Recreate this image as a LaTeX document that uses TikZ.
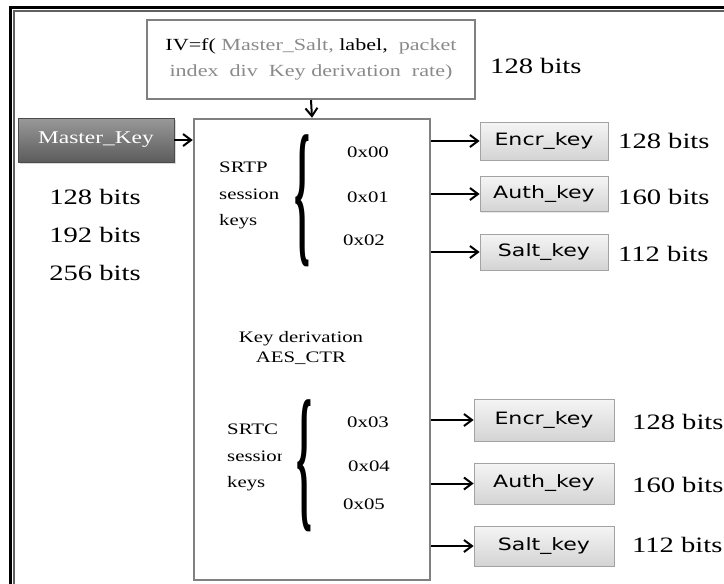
\documentclass[tikz,border=0pt]{standalone}
\usepackage{fontspec}
\usepackage{graphicx}
\setmainfont{Liberation Serif}[FakeStretch=1.3]
\newfontfamily\keyfont{DejaVu Sans}[FakeStretch=1.3]
\usetikzlibrary{arrows.meta,shadows}
\definecolor{txtgray}{HTML}{8A8A8A}
\definecolor{boxgray}{HTML}{808080}
\definecolor{keyedge}{HTML}{A3A3A3}
\tikzset{
  plain/.style={inner sep=0pt},
  arr/.style={line width=2pt,-{Straight Barb[length=8pt,width=12pt,line width=2pt]}},
  keybox/.style={draw=keyedge, line width=0.8pt, top color=white!96!black,
    bottom color=white!83!black, inner sep=0pt,
    font=\keyfont\fontsize{17}{17}\selectfont,
    drop shadow={opacity=0.18, shadow xshift=1.2pt, shadow yshift=-1.2pt}},
  bits/.style={plain, anchor=west, font=\fontsize{22}{22}\selectfont},
  hex/.style={plain, anchor=west, font=\fontsize{16}{16}\selectfont},
  curly/.style={plain, font=\bfseries},
}
\begin{document}
\begin{tikzpicture}[x=1pt,y=-1pt]
\useasboundingbox (0,0) rectangle (724,584);

% outer double frame
\draw[line width=3pt] (10.5,584) -- (10.5,7.5) -- (724,7.5);
\draw[line width=2pt, color=black!62] (14,584) -- (14,11) -- (724,11);

% initialisation vector
\node[draw=boxgray, line width=2pt, minimum width=328pt, minimum height=79pt,
      align=center, font=\fontsize{17}{26}\selectfont, text=txtgray]
  (iv) at (311,59.5)
  {\textcolor{black}{IV=f(} Master\_Salt, \textcolor{black}{label,}\ \ packet\\
   index\ \ div\ \ Key derivation\ \ rate)};
\node[bits] (ivbits) at (490,66) {128 bits};

% key derivation block
\node[draw=boxgray, line width=2.5pt, minimum width=236pt, minimum height=461pt,
      inner sep=0pt] (main) at (312,349.5) {};
\node[plain, align=center, font=\fontsize{16}{19.5}\selectfont]
  (kd) at (301,348) {Key derivation\\AES\_CTR};

% master key
\node[draw=black!70, line width=0.6pt, top color=black!40, bottom color=black!64,
      minimum width=156pt, minimum height=44pt, inner sep=0pt, text=white,
      font=\fontsize{18}{18}\selectfont,
      drop shadow={opacity=0.3, shadow xshift=1.5pt, shadow yshift=-2pt}]
  (mk) at (96,140) {Master\_Key};
\node[plain, align=center, font=\fontsize{22}{38}\selectfont]
  (mkbits) at (95,235) {128 bits\\192 bits\\256 bits};

\draw[arr] (iv.south) -- (main.north);
\draw[arr] (mk.east) -- (mk.east -| main.west);

% SRTP session keys
\node[plain, anchor=north west, align=left, font=\fontsize{16}{26.5}\selectfont]
  (srtp) at (219,162) {SRTP\\session\\keys};
\node[curly] (br1) at (303,201) {\resizebox*{16pt}{132pt}{\{}};
\node[hex] (h0) at (347,152) {0x00};
\node[hex] (h1) at (347,197) {0x01};
\node[hex] (h2) at (343,240) {0x02};

% SRTCP session keys
\begin{scope}
  \clip (215,415) rectangle (281,505);
  \node[plain, anchor=north west, align=left, font=\fontsize{16}{26.5}\selectfont]
    (srtc) at (227,424) {SRTC\\session\\keys};
\end{scope}
\node[curly] (br2) at (305,466) {\resizebox*{16pt}{132pt}{\{}};
\node[hex] (h3) at (347,422) {0x03};
\node[hex] (h4) at (348,466) {0x04};
\node[hex] (h5) at (343,504) {0x05};

% derived keys, SRTP
\node[keybox, minimum width=128pt, minimum height=38pt] (ek1) at (544,141) {Encr\_key};
\node[keybox, minimum width=128pt, minimum height=35pt] (ak1) at (544,194) {Auth\_key};
\node[keybox, minimum width=128pt, minimum height=36pt] (sk1) at (544,252) {Salt\_key};
\node[bits] (eb1) at (618,141) {128 bits};
\node[bits] (ab1) at (618,197) {160 bits};
\node[bits] (sb1) at (618,254) {112 bits};
\foreach \k in {ek1,ak1,sk1}
  \draw[arr] (\k.west -| main.east) -- (\k.west);

% derived keys, SRTCP
\node[keybox, minimum width=140pt, minimum height=42pt] (ek2) at (544,420) {Encr\_key};
\node[keybox, minimum width=140pt, minimum height=41pt] (ak2) at (544,483.5) {Auth\_key};
\node[keybox, minimum width=140pt, minimum height=40pt] (sk2) at (544,546) {Salt\_key};
\node[bits] (eb2) at (632,422) {128 bits};
\node[bits] (ab2) at (632,485) {160 bits};
\node[bits] (sb2) at (632,545) {112 bits};
\foreach \k in {ek2,ak2,sk2}
  \draw[arr] (\k.west -| main.east) -- (\k.west);
\end{tikzpicture}
\end{document}
